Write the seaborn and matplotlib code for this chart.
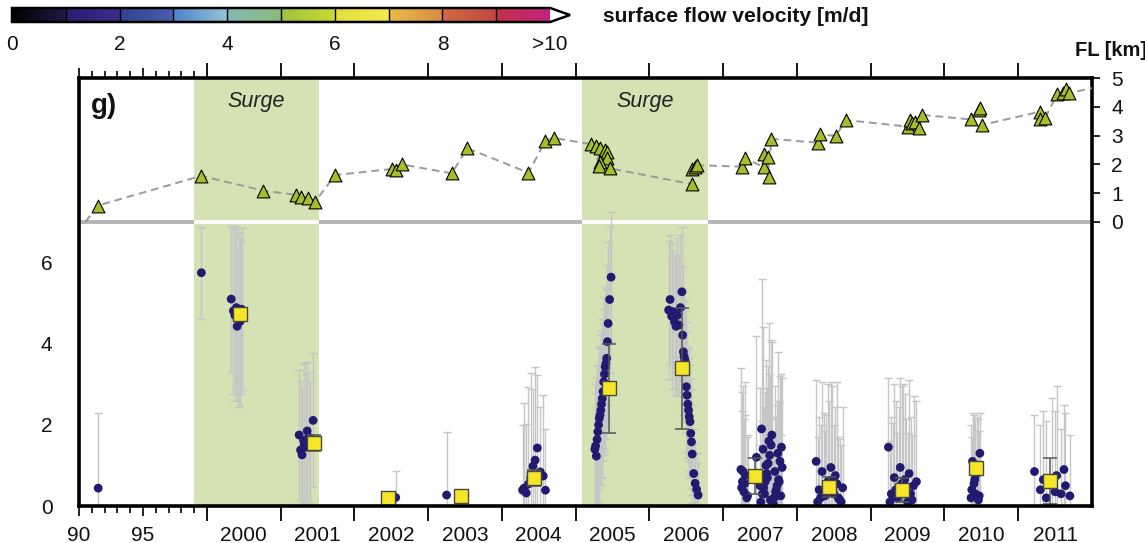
import numpy as np
import pandas as pd
import matplotlib
matplotlib.use("Agg")
import matplotlib.pyplot as plt
import seaborn as sns
from matplotlib.colors import ListedColormap, Normalize, to_rgb
import matplotlib as mpl

sns.set_theme(style="white")
plt.rcParams['font.family'] = ['Liberation Sans', 'DejaVu Sans']

# ---------------- data ----------------
surge_start = [1999.0, 2005.09]
surge_end = [2001.52, 2006.80]

# front position (FL) [km]
fl_year = [1991.47, 1999.56, 2000.76, 2001.21, 2001.27, 2001.37, 2001.46, 2001.74,
           2002.51, 2002.56, 2002.64, 2003.32, 2003.53, 2004.36, 2004.59, 2004.70,
           2005.21, 2005.27, 2005.33, 2005.40, 2005.43, 2005.42, 2005.33, 2005.31, 2005.47,
           2006.58, 2006.58, 2006.62, 2006.65,
           2007.26, 2007.30, 2007.55, 2007.55, 2007.61, 2007.62, 2007.65,
           2008.28, 2008.31, 2008.53, 2008.66,
           2009.51, 2009.53, 2009.56, 2009.60, 2009.66, 2009.70,
           2010.36, 2010.47, 2010.48, 2010.51,
           2011.29, 2011.30, 2011.36, 2011.53, 2011.61, 2011.65, 2011.69]
fl_km = [0.57, 1.60, 1.09, 0.94, 0.88, 0.84, 0.68, 1.63,
         1.84, 1.81, 2.00, 1.69, 2.56, 1.71, 2.82, 2.92,
         2.70, 2.64, 2.56, 2.50, 2.44, 2.21, 2.09, 1.94, 1.86,
         1.31, 1.84, 1.90, 1.97,
         1.92, 2.21, 1.90, 2.36, 2.27, 1.57, 2.89,
         2.75, 3.04, 2.99, 3.54,
         3.31, 3.54, 3.43, 3.48, 3.25, 3.72,
         3.56, 3.89, 3.95, 3.37,
         3.83, 3.56, 3.60, 4.44, 4.49, 4.61, 4.47]
fl_line_start = [1990.5, 0.0]
fl_line_end = [2012.0, 4.65]

# surface flow velocity of single measurements [m/d]
vel_year = [1991.5, 1999.57,
            2000.33, 2000.36, 2000.38, 2000.40, 2000.41, 2000.43, 2000.44, 2000.45, 2000.46, 2000.47,
            2001.25, 2001.27, 2001.29, 2001.31, 2001.32, 2001.34, 2001.36, 2001.38, 2001.40, 2001.44,
            2002.56, 2003.25,
            2004.28, 2004.30, 2004.33, 2004.36, 2004.39, 2004.42, 2004.45, 2004.48, 2004.52, 2004.56, 2004.59,
            2005.26, 2005.27, 2005.28, 2005.29, 2005.30, 2005.31, 2005.32, 2005.33, 2005.34, 2005.35,
            2005.36, 2005.37, 2005.38, 2005.39, 2005.40, 2005.41, 2005.42, 2005.43, 2005.44, 2005.46, 2005.48,
            2006.26, 2006.28, 2006.30, 2006.32, 2006.34, 2006.36, 2006.38, 2006.40, 2006.42, 2006.44,
            2006.45, 2006.46, 2006.47, 2006.48, 2006.49, 2006.50, 2006.51, 2006.52, 2006.53, 2006.54,
            2006.55, 2006.56, 2006.57, 2006.58, 2006.60, 2006.62, 2006.64, 2006.66,
            2007.24, 2007.26, 2007.28, 2007.30, 2007.32, 2007.45, 2007.50, 2007.52, 2007.54, 2007.56,
            2007.58, 2007.60, 2007.62, 2007.64, 2007.70, 2007.72, 2007.74, 2007.76, 2007.78, 2007.80,
            2007.25, 2007.27, 2007.29, 2007.33, 2007.51, 2007.53, 2007.55, 2007.57, 2007.59,
            2007.61, 2007.63, 2007.65, 2007.66, 2007.68, 2007.69, 2007.71, 2007.73, 2007.75,
            2007.77, 2007.79,
            2008.26, 2008.30, 2008.34, 2008.38, 2008.42, 2008.46, 2008.50, 2008.54, 2008.58, 2008.62,
            2008.28, 2008.32, 2008.36, 2008.40, 2008.44, 2008.48, 2008.52, 2008.56, 2008.60,
            2009.24, 2009.28, 2009.32, 2009.36, 2009.40, 2009.44, 2009.48, 2009.52, 2009.56, 2009.62,
            2009.26, 2009.30, 2009.34, 2009.38, 2009.42, 2009.46, 2009.50, 2009.54, 2009.58,
            2010.36, 2010.38, 2010.40, 2010.42, 2010.44, 2010.46, 2010.48,
            2010.37, 2010.41, 2010.45, 2010.47,
            2011.22, 2011.30, 2011.38, 2011.46, 2011.52, 2011.58, 2011.64, 2011.70,
            2011.34, 2011.50, 2011.62]
vel_val = [0.44, 5.75,
           5.10, 4.81, 4.70, 4.89, 4.43, 4.60, 4.75, 4.55, 4.65, 4.85,
           1.75, 1.38, 1.26, 1.62, 1.50, 1.45, 1.85, 1.70, 1.55, 2.11,
           0.21, 0.27,
           0.39, 0.44, 0.32, 0.54, 0.69, 0.98, 1.13, 1.43, 0.84, 0.74, 0.39,
           1.40, 1.48, 1.23, 1.64, 1.83, 2.00, 2.16, 2.24, 2.36, 2.51,
           2.65, 2.82, 3.06, 3.25, 3.43, 3.51, 3.64, 4.05, 4.50, 5.09, 5.64,
           4.83, 5.09, 4.68, 4.79, 4.54, 4.43, 4.70, 4.46, 4.89, 5.28,
           4.21, 3.80, 3.68, 3.60, 3.31, 2.94, 2.73, 2.51, 2.36, 2.20,
           2.08, 1.79, 1.58, 1.28, 0.80, 0.56, 0.41, 0.27,
           0.90, 0.60, 0.35, 0.75, 0.20, 1.20, 0.50, 1.90, 1.40, 0.30,
           1.00, 0.70, 1.60, 0.15, 0.85, 0.40, 1.30, 0.60, 0.25, 0.95,
           0.45, 0.85, 0.55, 0.25, 0.10, 0.30, 0.45, 0.60, 0.80,
           1.05, 1.25, 1.50, 1.75, 0.05, 0.20, 0.35, 0.50, 0.65,
           1.10, 1.45,
           1.10, 0.40, 0.85, 0.25, 0.60, 0.95, 0.30, 0.55, 0.15, 0.45,
           0.10, 0.20, 0.30, 0.35, 0.50, 0.65, 0.75, 0.20, 0.10,
           1.45, 0.30, 0.70, 0.20, 0.95, 0.50, 0.35, 0.80, 0.15, 0.60,
           0.10, 0.25, 0.40, 0.45, 0.55, 0.65, 0.10, 0.30, 0.50,
           0.20, 1.10, 0.55, 0.30, 0.80, 0.15, 1.30,
           0.40, 0.65, 0.95, 0.25,
           0.85, 0.40, 0.20, 0.55, 0.75, 0.30, 0.50, 0.25,
           0.65, 0.35, 0.90]
vel_err = [1.85, 1.13,
           1.80, 2.05, 2.10, 2.00, 1.85, 2.15, 1.95, 2.05, 1.90, 2.00,
           1.60, 1.70, 1.60, 1.90, 2.00, 1.80, 1.70, 1.60, 1.50, 1.65,
           0.65, 1.55,
           1.60, 2.10, 1.70, 2.40, 2.60, 1.90, 2.30, 1.80, 1.60, 2.00, 1.50,
           1.60, 1.70, 1.55, 1.80, 1.65, 1.90, 1.75, 1.70, 1.85, 1.80,
           1.95, 1.70, 1.80, 1.90, 2.00, 1.85, 1.70, 1.90, 2.00, 1.80, 1.60,
           1.70, 1.60, 1.80, 1.50, 1.65, 1.70, 1.90, 1.75, 1.80, 1.60,
           1.70, 1.55, 1.60, 1.45, 1.50, 1.60, 1.55, 1.40, 1.50, 1.45,
           1.40, 1.35, 1.30, 1.20, 1.10, 1.00, 0.90, 0.80,
           2.50, 2.20, 1.80, 2.30, 1.50, 3.00, 2.40, 3.70, 3.00, 2.00,
           2.60, 2.20, 2.90, 1.60, 2.10, 1.80, 2.50, 2.00, 1.50, 2.20,
           1.90, 2.10, 1.70, 1.50, 1.40, 1.80, 2.00, 2.20, 2.10,
           2.40, 2.00, 2.60, 2.30, 1.30, 1.60, 1.80, 2.00, 1.90,
           2.10, 1.80,
           2.00, 1.80, 2.20, 1.60, 2.40, 2.10, 1.70, 2.50, 1.50, 2.00,
           1.60, 1.80, 2.00, 1.90, 2.10, 2.30, 1.70, 1.50, 1.40,
           1.70, 1.90, 2.30, 1.60, 2.20, 2.50, 1.80, 2.30, 1.60, 2.00,
           1.50, 1.80, 2.20, 2.00, 2.40, 2.10, 1.70, 1.90, 2.20,
           1.80, 1.20, 1.70, 1.50, 1.40, 1.20, 1.00,
           1.30, 1.50, 1.20, 1.60,
           1.40, 1.60, 1.90, 2.10, 2.20, 1.60, 1.80, 1.50,
           1.70, 2.00, 1.60]

# annual mean velocity [m/d]
mean_year = [2000.45, 2001.45, 2002.45, 2003.44, 2004.43, 2005.45, 2006.44,
             2007.43, 2008.44, 2009.43, 2010.43, 2011.43]
mean_val = [4.72, 1.56, 0.19, 0.25, 0.69, 2.90, 3.39, 0.74, 0.47, 0.39, 0.93, 0.62]
mean_err = [0.15, 0.20, 0.0, 0.0, 0.20, 1.10, 1.49, 0.45, 0.25, 0.30, 0.0, 0.57]

# colour bar
cbar_ticks = [0, 2, 4, 6, 8, 10]
cbar_ticklabels = ['0', '2', '4', '6', '8', '>10']
cbar_colors = [('#000000', '#221844'), ('#2a1c6e', '#3b2d8c'), ('#2f4190', '#4b5eab'),
               ('#4a82c8', '#95c3d6'), ('#82b9b4', '#8cba7c'), ('#9cc23e', '#cbd932'),
               ('#e2e03c', '#f2e94a'), ('#e9bb4a', '#d98c42'), ('#d06a42', '#c24640'),
               ('#c2304a', '#c22282')]

# ---------------- styling ----------------
GREEN = '#d4e2b4'
NAVY = '#221a70'
TRI = '#a5be2a'
YEL = '#f5e62a'

W, H = 1145, 543
fig = plt.figure(figsize=(W / 100, H / 100), dpi=100)
rect = [79 / W, (H - 506) / H, (1092 - 79) / W, (506 - 78) / H]

r = 12.8 / 73.83


def fwd(y):
    y = np.asarray(y, dtype=float)
    return np.where(y < 2000, (y - 2000) * r, y - 2000)


def inv(u):
    u = np.asarray(u, dtype=float)
    return np.where(u < 0, 2000 + u / r, 2000 + u)


ax = fig.add_axes(rect)
ax.set_xscale('function', functions=(fwd, inv))
ax.set_xlim(1990, 2012)
ax.set_ylim(0, 10.549)
ax.set_facecolor('white')

ax2 = ax.twinx()
ax2.set_ylim(-9.864, 5.0)

# surge bands
for s, e in zip(surge_start, surge_end):
    ax.axvspan(s, e, color=GREEN, lw=0, zorder=0)
    mid = float(inv((fwd(s) + fwd(e)) / 2))
    ax.text(mid, 9.98, 'Surge', ha='center', va='center', fontsize=15.5,
            style='italic', color='#222222', zorder=6)

# separation line between panels
ax.axhline(7.0, color='#b4b4b4', lw=2.8, zorder=1)
for s, e in zip(surge_start, surge_end):
    ax.plot([s, e], [7.0, 7.0], color='white', lw=2.8, zorder=1.1, solid_capstyle='butt')

# single measurements with uncertainty
ax.errorbar(vel_year, vel_val, yerr=vel_err, fmt='none', ecolor='#c6c6c6', elinewidth=1.0,
            capsize=3, capthick=1.0, zorder=2)
sns.scatterplot(x=vel_year, y=vel_val, ax=ax, color=NAVY, s=40, edgecolor='none', zorder=3,
                legend=False)

# annual means
ax.errorbar(mean_year, mean_val, yerr=mean_err, fmt='none', ecolor='#555555', elinewidth=1.1,
            capsize=5, capthick=1.1, zorder=4)
sns.scatterplot(x=mean_year, y=mean_val, ax=ax, color=YEL, marker='s', s=110,
                edgecolor='#4a4a3a', linewidth=1.0, zorder=5, legend=False)

# front position
line_df = pd.DataFrame({'year': [fl_line_start[0]] + fl_year + [fl_line_end[0]],
                        'fl': [fl_line_start[1]] + fl_km + [fl_line_end[1]]})
line_df = line_df.sort_values('year', kind='stable')
sns.lineplot(data=line_df, x='year', y='fl', ax=ax2, color='#9a9a9a', lw=1.4,
             linestyle=(0, (4, 2.5)), estimator=None, sort=False, zorder=2)
sns.scatterplot(x=fl_year, y=fl_km, ax=ax2, color=TRI, marker='^', s=85,
                edgecolor='black', linewidth=0.8, zorder=3, legend=False)
ax2.set_xlabel('')
ax2.set_ylabel('')
ax.set_xlabel('')
ax.set_ylabel('')

# y axes
ax.set_yticks([0, 2, 4, 6])
ax.tick_params(axis='y', which='both', left=True, length=0, pad=19, labelsize=15,
               labelcolor='#111111')
ax2.set_yticks([0, 1, 2, 3, 4, 5])
ax2.tick_params(axis='y', right=True, length=6, width=1.2, pad=8, labelsize=15,
                direction='out', color='black', labelcolor='#111111')
ax2.set_xlim(1990, 2012)

# x axis: early years (compressed)
ax.set_xticks([1990, 1995], labels=['90', '95'])
ax.set_xticks([1991, 1992, 1993, 1994, 1996, 1997, 1998, 1999], minor=True)
ax.tick_params(axis='x', which='major', bottom=True, top=True, direction='out', length=7.5,
               width=1.2, pad=7, labelsize=15, color='black', labelcolor='#111111')
ax.tick_params(axis='x', which='minor', bottom=True, top=True, direction='out', length=5,
               width=1.2, color='black')

for sp in ax.spines.values():
    sp.set_color('black')
    sp.set_linewidth(2.6)
    sp.set_zorder(10)
for sp in ax2.spines.values():
    sp.set_visible(False)

# overlay axes for year ticks / labels
ax3 = fig.add_axes(rect)
ax3.set_xscale('function', functions=(fwd, inv))
ax3.set_xlim(1990, 2012)
ax3.patch.set_visible(False)
for sp in ax3.spines.values():
    sp.set_visible(False)
ax3.set_yticks([])
years = list(range(2000, 2012))
ax3.set_xticks(years, labels=[''] * len(years))
ax3.set_xticks([y + 0.5 for y in years], labels=[str(y) for y in years], minor=True)
ax3.tick_params(axis='x', which='major', bottom=True, top=True, direction='out', length=11,
                width=1.3, color='black')
ax3.tick_params(axis='x', which='minor', bottom=True, top=False, length=0, pad=14.5,
                labelsize=15, labelcolor='#111111')

# panel label & axis title
ax.text(0.012, 0.935, 'g)', transform=ax.transAxes, fontsize=20, fontweight='bold',
        ha='left', va='center', color='#111111', zorder=7)
fig.text(1111 / W, 1 - 50 / H, 'FL [km]', fontsize=14.5, fontweight='bold', ha='center',
         va='center', color='#111111')

# ---------------- colour bar ----------------
n_per = 100
cols = []
for c0, c1 in cbar_colors:
    a, b = np.array(to_rgb(c0)), np.array(to_rgb(c1))
    for t in np.linspace(0, 1, n_per):
        cols.append(a + (b - a) * t)
cmap = ListedColormap(cols)
cmap.set_over('white')
cax = fig.add_axes([12 / W, 1 - 22 / H, (570 - 12) / W, 14 / H])
cb = mpl.colorbar.ColorbarBase(cax, cmap=cmap, norm=Normalize(0, 10), orientation='horizontal',
                               extend='max', extendfrac=0.037)
cb.outline.set_linewidth(1.8)
cb.outline.set_edgecolor('black')
for v in range(1, 10):
    cax.axvline(v, color='black', lw=1.0)
cb.set_ticks(cbar_ticks)
cb.set_ticklabels(cbar_ticklabels)
cax.tick_params(axis='x', length=0, pad=9, labelsize=15, labelcolor='#111111')
fig.text(603 / W, 1 - 17 / H, 'surface flow velocity [m/d]', fontsize=15.2, fontweight='bold',
         ha='left', va='center', color='#111111')

fig.savefig('out.png', dpi=100)
